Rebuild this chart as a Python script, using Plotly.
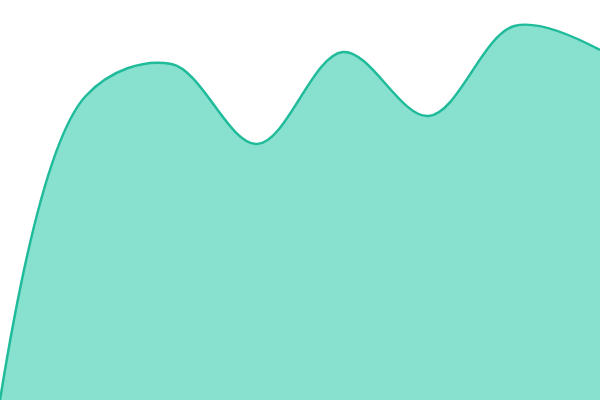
import plotly.graph_objects as go

# Data points (evenly spaced categories)
x_vals = [0, 1, 2, 3, 4, 5, 6, 7]
y_vals = [0, 76, 84, 64, 87, 71, 93.5, 87.5]

fig = go.Figure()

fig.add_trace(
    go.Scatter(
        x=x_vals, y=y_vals,
        mode='lines',
        line=dict(color='#1fbb9a', width=2.5, shape='spline', smoothing=1),
        fill='tozeroy', fillcolor='#88e0cf',
        hoverinfo='skip'
    )
)

fig.update_xaxes(visible=False, range=[0, 7])
fig.update_yaxes(visible=False, range=[0, 100])

fig.update_layout(
    width=600, height=400,
    margin=dict(l=0, r=0, t=0, b=0),
    paper_bgcolor='white', plot_bgcolor='white',
    showlegend=False
)

fig.write_html("out.html", config={'displayModeBar': False},
               post_script="document.body.style.margin='0';")
